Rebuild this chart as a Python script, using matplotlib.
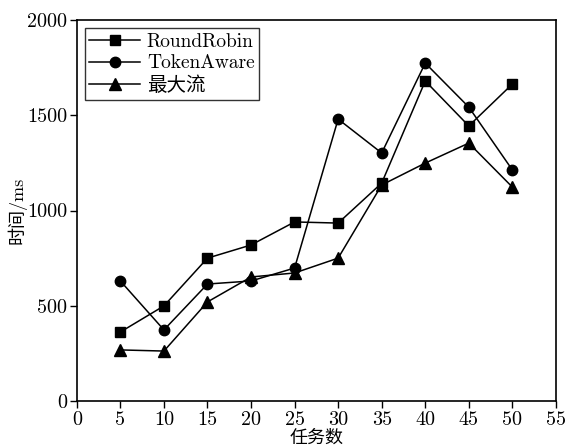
import matplotlib
matplotlib.use("Agg")
import matplotlib.pyplot as plt

tasks = [5, 10, 15, 20, 25, 30, 35, 40, 45, 50]
round_robin = [362, 499, 750, 819, 940, 934, 1144, 1680, 1444, 1664]
token_aware = [630, 373, 614, 630, 698, 1480, 1302, 1774, 1543, 1213]
max_flow = [268, 262, 520, 651, 672, 750, 1134, 1249, 1354, 1123]
labels = ["RoundRobin", "TokenAware", "最大流"]
xticks = list(range(0, 56, 5))
yticks = [0, 500, 1000, 1500, 2000]

plt.rcParams['font.family'] = ['cmr10', 'Noto Sans CJK SC']
plt.rcParams['axes.unicode_minus'] = False

fig = plt.figure(figsize=(5.69, 4.46), dpi=100)
ax = fig.add_axes([0.135, 0.101, 0.842, 0.854])

ax.plot(tasks, round_robin, color='black', marker='s', markersize=7, linewidth=1.1, label=labels[0])
ax.plot(tasks, token_aware, color='black', marker='o', markersize=7.5, linewidth=1.1, label=labels[1])
ax.plot(tasks, max_flow, color='black', marker='^', markersize=8, linewidth=1.1, label=labels[2])

ax.set_xlim(0, 55)
ax.set_ylim(0, 2000)
ax.set_xticks(xticks)
ax.set_yticks(yticks)
ax.tick_params(axis='both', direction='out', labelsize=14.5, length=5, width=1, top=False, right=False, pad=2)
for s in ax.spines.values():
    s.set_linewidth(1.2)

ax.set_xlabel("任务数", fontsize=13, labelpad=0, family=['Noto Sans CJK SC'])
ax.set_ylabel("时间/ms", fontsize=13, labelpad=0)

leg = ax.legend(loc='upper left', fontsize=14, frameon=True, fancybox=False,
                edgecolor='black', handlelength=2.6, borderpad=0.25, labelspacing=0.2,
                handletextpad=0.35, borderaxespad=0.4)
leg.get_frame().set_linewidth(1.0)

fig.savefig("out.png", dpi=100)
